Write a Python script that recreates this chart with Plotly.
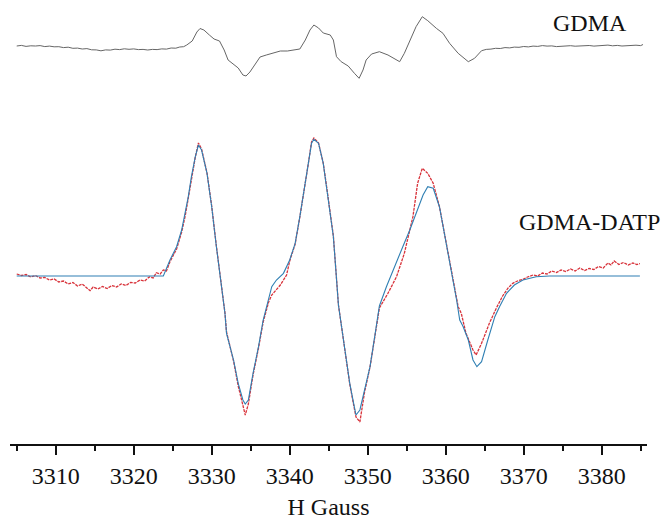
import plotly.graph_objects as go

# EPR spectra: magnetic field (G) and first-derivative intensity (arb. units)

gdma_field = [3305.0, 3305.6, 3306.2, 3306.8, 3307.4, 3308.0, 3308.6, 3309.2, 3309.8, 3310.4,
              3311.0, 3311.6, 3312.2, 3312.8, 3313.4, 3314.0, 3314.6, 3315.2, 3315.8, 3316.4,
              3317.0, 3317.6, 3318.2, 3318.8, 3319.4, 3320.0, 3320.6, 3321.2, 3321.8, 3322.4,
              3323.0, 3323.6, 3324.2, 3324.8, 3325.4, 3325.9, 3326.4, 3326.8, 3327.5,
              3328.1, 3328.5, 3329.0, 3329.7, 3330.3, 3331.0, 3331.6, 3332.1, 3332.9, 3333.4,
              3334.0, 3334.4, 3334.9, 3335.6, 3336.2, 3337.0, 3337.9, 3338.8, 3339.7, 3340.6,
              3341.3, 3342.0, 3342.6, 3343.1, 3343.7, 3344.3, 3345.2, 3345.6, 3346.0, 3346.6,
              3347.5, 3348.3, 3348.9, 3349.4, 3349.8, 3350.5, 3351.5, 3352.6, 3354.1, 3354.7,
              3355.4, 3356.2, 3357.0, 3357.7, 3358.8, 3359.65, 3360.5, 3361.6, 3362.9, 3363.7,
              3364.6, 3365.2, 3365.8, 3366.4, 3367.0, 3367.6, 3368.2, 3368.8, 3369.4, 3370.0,
              3370.6, 3371.2, 3371.8, 3372.4, 3373.0, 3373.6, 3374.2, 3374.8, 3375.4, 3376.0,
              3376.6, 3377.2, 3377.8, 3378.4, 3379.0, 3379.6, 3380.2, 3380.8, 3381.4, 3382.0,
              3382.6, 3383.2, 3383.8, 3384.4, 3385.0, 3385.3]
gdma_signal = [1, 1.6, 0.6, 1.2, 1.0, 1.4, 0.4, 0.9, 0.2, 0.3,
               -0.6, -0.2, -1.3, -1.1, -2.0, -1.6, -2.8, -2.9, -3.8, -2.9,
               -3.1, -2.2, -2.6, -1.8, -2.3, -1.9, -2.6, -2.4, -3.0, -2.4,
               -2.6, -1.9, -2.1, -1.0, -1.2, 0.0, 0.3, 2, 6,
               15, 18.5, 17, 12, 8, 6, -3, -13, -18, -21,
               -28, -29, -25, -17, -10, -8, -6, -4, -4, -3,
               -2, 7, 17, 22, 19, 14, 12, 7, -9.7, -14.7,
               -19, -26.3, -31.3, -23, -13, -7, -4.7, -8, -14.7, -6.3,
               7, 20.3, 30.3, 26.3, 18.7, 13.7, 3.7, -6.3, -14.7, -11.3,
               -3.7, -2.4, -2.1, -1.3, -1.5, -0.6, -0.9, -0.1, -0.3, 0.5,
               0.1, 0.9, 0.6, 1.4, 0.9, 1.1, 0.4, 0.8, 0.6, 1.3,
               0.8, 1.1, 0.7, 1.5, 0.9, 1.2, 1.0, 1.9, 1.2, 1.6,
               1.0, 1.3, 1.1, 1.8, 1.4, 2.5]

datp_exp_field = [3305.0, 3305.6, 3306.2, 3306.8, 3307.4, 3308.0, 3308.6, 3309.2, 3309.8, 3310.4,
                  3311.0, 3311.6, 3312.2, 3312.8, 3313.4, 3314.0, 3314.4, 3314.8, 3315.4, 3316.0,
                  3316.6, 3317.2, 3317.8, 3318.4, 3319.0, 3319.6, 3320.2, 3320.8, 3321.4, 3322.0,
                  3322.5, 3322.9, 3323.4, 3323.8, 3324.2, 3324.65, 3325.5, 3326.15, 3326.6,
                  3327.0, 3327.4, 3327.9, 3328.3, 3328.7, 3329.4, 3330.0, 3330.6, 3331.3, 3331.7,
                  3331.9, 3332.8, 3333.4, 3334.0, 3334.3, 3334.7, 3335.3, 3336.0, 3336.6, 3337.3,
                  3337.7, 3338.8, 3339.6, 3340.0, 3340.7, 3341.3, 3341.95, 3342.4, 3342.8, 3343.1,
                  3343.7, 3344.3, 3344.9, 3345.6, 3346.25, 3347.05, 3347.7, 3348.2, 3348.5, 3349.0,
                  3349.6, 3350.3, 3350.9, 3351.5, 3352.6, 3353.7, 3354.7, 3355.8, 3356.4, 3357.0,
                  3357.7, 3358.4, 3359.2, 3360.1, 3360.9, 3361.6, 3362.0, 3362.6, 3363.5, 3363.9,
                  3364.6, 3365.6, 3366.5, 3367.3, 3368.0, 3368.6, 3369.2, 3369.9, 3370.5, 3371.2,
                  3371.8, 3372.4, 3373.0, 3373.6, 3374.2, 3374.8, 3375.4, 3376.0, 3376.6, 3377.2,
                  3377.8, 3378.4, 3379.0, 3379.6, 3380.2, 3380.8, 3381.2, 3381.6, 3382.2, 3382.8,
                  3383.4, 3384.0, 3384.5, 3384.9]
datp_exp_signal = [2, 0.5, 1.5, -1, 0.5, -2, -1.5, -4, -3, -6,
                   -5, -8, -6.5, -10, -8, -12, -14.7, -11, -13, -10.5,
                   -12.5, -9.5, -11, -8, -9.5, -6.5, -7, -4, -5, -1,
                   -2, 3.3, 2, 6, 5, 14.3, 27, 44, 60,
                   78, 98, 119, 133, 127, 103, 70, 30, -11, -37,
                   -56, -85, -110, -130, -139, -128, -99, -72, -46, -26,
                   -19, -9, 1, 15, 32, 59, 89, 113, 134, 138,
                   133, 113, 80, 40, -29, -74, -108, -129, -141, -146,
                   -116, -91, -61, -32, -17.3, -0.7, 22.7, 59.3, 92.7, 107.7,
                   102.7, 92.7, 69.3, 32.7, -0.7, -30.7, -37.3, -57.3, -74, -79,
                   -67.3, -47.3, -32, -20, -12, -7.3, -5, -3.3, -1, 1,
                   0, 3, 2, 5, 3.5, 6, 4.5, 7, 5, 8,
                   5.5, 7.5, 6.5, 9.5, 8, 13, 11, 15, 11.5, 13.5,
                   11, 13, 11.5, 12.5]

datp_sim_field = [3305.0, 3323.8, 3324.65, 3325.5, 3326.15, 3326.6, 3327.0, 3327.4, 3327.9, 3328.3,
                  3328.7, 3329.4, 3330.0, 3330.6, 3331.3, 3331.7, 3331.9, 3332.8, 3333.4, 3334.0,
                  3334.3, 3334.7, 3335.3, 3336.0, 3336.6, 3337.3, 3337.7, 3338.3, 3339.2, 3340.0,
                  3340.7, 3341.3, 3341.95, 3342.4, 3342.8, 3343.1, 3343.7, 3344.3, 3344.9, 3345.6,
                  3346.25, 3347.05, 3347.7, 3348.2, 3348.5, 3349.0, 3349.6, 3350.3, 3350.9, 3351.5,
                  3352.4, 3353.5, 3354.5, 3355.4, 3356.2, 3357.1, 3357.7, 3358.4, 3359.2, 3360.1,
                  3360.7, 3361.4, 3361.8, 3362.2, 3362.9, 3363.5, 3364.0, 3364.6, 3365.4, 3366.3,
                  3366.9, 3367.8, 3368.8, 3369.9, 3371.6, 3373.3, 3384.9]
datp_sim_signal = [0, 0, 16, 29.3, 46, 62.7, 79.3, 99.3, 119.3, 131,
                   126, 102.7, 69.3, 29.3, -10.7, -37.3, -57.3, -84, -107.3, -124,
                   -128, -124, -97.3, -70.7, -44, -24, -10.7, -4, 2.7, 16,
                   32.7, 59.3, 89.3, 112.7, 132.7, 136.7, 132.7, 112.7, 79.3, 39.3,
                   -29, -74, -107.3, -127.3, -139, -134, -114, -90.7, -60.7, -30,
                   -10.7, 9.3, 29.3, 46, 62.7, 81, 89.3, 87.7, 69.3, 32.7,
                   6, -24, -44, -50, -64, -84, -90.7, -85.7, -64, -40.7,
                   -30.7, -17.3, -9, -4, -0.7, 0, 0]

gdma_offset = 229  # vertical shift of the upper spectrum
x_ticks = [3310, 3320, 3330, 3340, 3350, 3360, 3370, 3380]

serif = "Liberation Serif, Times New Roman, serif"

fig = go.Figure()
fig.add_trace(go.Scatter(
    x=gdma_field, y=[v + gdma_offset for v in gdma_signal], mode="lines",
    line=dict(color="#666666", width=1), name="GDMA"))
fig.add_trace(go.Scatter(
    x=datp_exp_field, y=datp_exp_signal, mode="lines",
    line=dict(color="#d8323a", width=1.3, dash="3px,1px"), name="GDMA-DATP exp."))
fig.add_trace(go.Scatter(
    x=datp_sim_field, y=datp_sim_signal, mode="lines",
    line=dict(color="#2f7fb3", width=1.1), name="GDMA-DATP sim."))

fig.add_annotation(text="GDMA", xref="paper", yref="paper", x=0.911, y=0.948,
                   xanchor="center", yanchor="middle", showarrow=False,
                   font=dict(family=serif, size=24, color="#111"))
fig.add_annotation(text="GDMA-DATP", xref="paper", yref="paper", x=0.91, y=0.5,
                   xanchor="center", yanchor="middle", showarrow=False,
                   font=dict(family=serif, size=24, color="#111"))

fig.update_layout(
    width=667, height=520,
    margin=dict(l=10, r=20, t=0, b=76),
    paper_bgcolor="white", plot_bgcolor="white",
    showlegend=False,
    font=dict(family=serif, size=24, color="#111"),
    xaxis=dict(
        range=[3304.14, 3385.81], tickvals=x_ticks, ticktext=[str(v) for v in x_ticks],
        showline=True, linecolor="#111", linewidth=2, showgrid=False, zeroline=False,
        ticks="outside", ticklen=9, tickwidth=1.5, tickcolor="#111",
        minor=dict(dtick=5, tick0=3305, ticks="outside", ticklen=5, tickwidth=1.5, tickcolor="#111"),
        tickfont=dict(family=serif, size=24, color="#111"),
        title=dict(text="H Gauss", font=dict(family=serif, size=24, color="#111"), standoff=15),
    ),
    yaxis=dict(range=[-168, 276], visible=False, showgrid=False, zeroline=False),
)

fig.write_html("out.html")
